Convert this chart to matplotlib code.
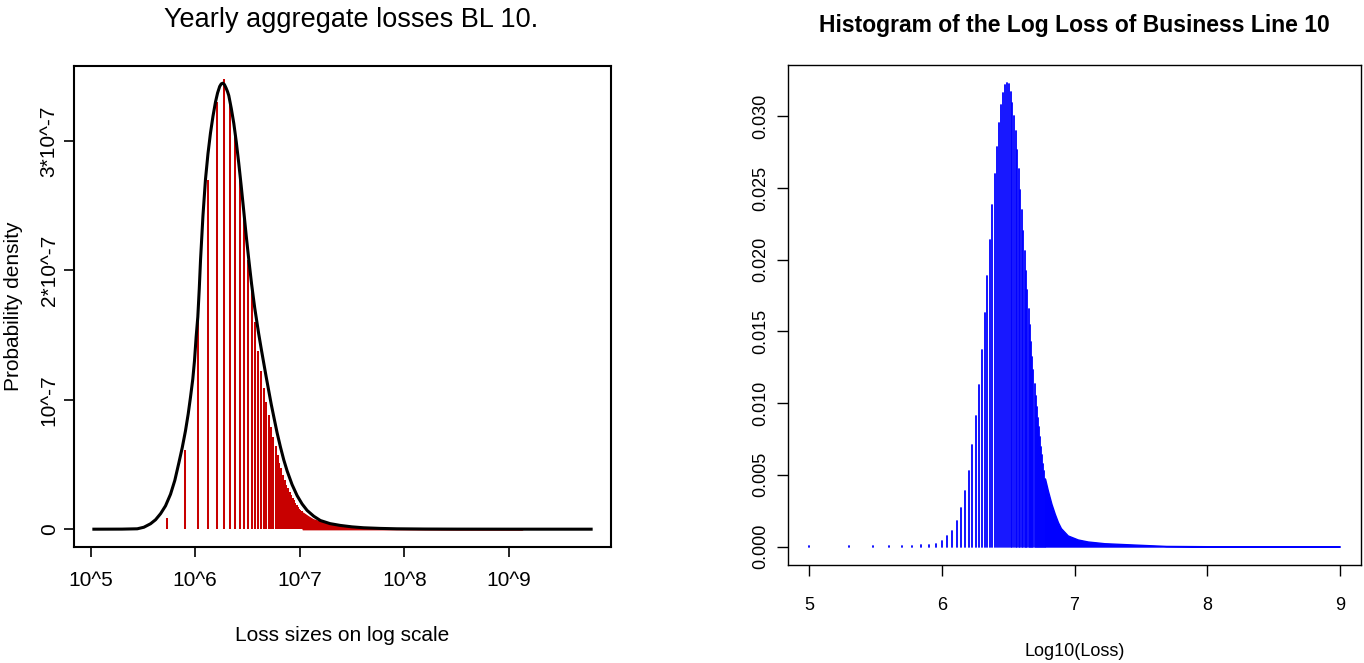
import numpy as np
import matplotlib.pyplot as plt

plt.rcParams['font.family'] = ['Liberation Sans', 'DejaVu Sans']

# ---- left panel: yearly aggregate losses, density per unit of loss ----
left_unit = 2.67e5          # loss step between two spikes
left_k = np.arange(1, 41)   # spike index (loss = k * unit)
left_dens = np.array([0.0, 0.085, 0.61, 1.69, 2.70, 3.30, 3.48, 3.30, 3.04, 2.73,
                      2.44, 2.08, 1.86, 1.60, 1.38, 1.22, 1.09, 0.98, 0.88, 0.79,
                      0.71, 0.64, 0.575, 0.515, 0.47, 0.42, 0.38, 0.345, 0.315, 0.285,
                      0.262, 0.24, 0.222, 0.205, 0.188, 0.172, 0.158, 0.146, 0.137, 0.128]) * 1e-7
# dense tail where spikes merge
left_tail_loss = np.array([1.068e7, 1.2e7, 1.335e7, 1.97e7, 2.84e7, 4.08e7, 8.5e7, 3.16e8, 1.35e9])
left_tail_dens = np.array([0.128, 0.10, 0.077, 0.034, 0.015, 0.008, 0.003, 0.001, 0.0005]) * 1e-7
# fitted density curve
curve_log10 = np.array([5.032, 5.30, 5.447, 5.510, 5.574, 5.622, 5.670, 5.717, 5.765, 5.806,
                        5.844, 5.877, 5.908, 5.934, 5.956, 5.978, 5.994, 6.010, 6.026, 6.040,
                        6.052, 6.075, 6.099, 6.123, 6.147, 6.171, 6.195, 6.215, 6.235, 6.250,
                        6.265, 6.280, 6.295, 6.310, 6.322, 6.346, 6.370, 6.394, 6.417, 6.441,
                        6.465, 6.489, 6.513, 6.540, 6.570, 6.608, 6.632, 6.656, 6.680, 6.704,
                        6.728, 6.752, 6.784, 6.816, 6.848, 6.880, 6.927, 6.975, 7.023, 7.071,
                        7.135, 7.198, 7.290, 7.389, 7.500, 7.611, 7.77, 7.93, 8.2, 8.5,
                        9.0, 9.787])
curve_dens = np.array([0.0, 0.0005, 0.003, 0.015, 0.042, 0.073, 0.12, 0.18, 0.27, 0.377,
                       0.51, 0.63, 0.76, 0.89, 1.02, 1.16, 1.30, 1.485, 1.64, 1.86,
                       2.08, 2.42, 2.70, 2.90, 3.06, 3.19, 3.30, 3.37, 3.42, 3.44,
                       3.445, 3.435, 3.41, 3.38, 3.35, 3.25, 3.135, 2.99, 2.83, 2.65,
                       2.46, 2.265, 2.085, 1.895, 1.71, 1.51, 1.395, 1.285, 1.175, 1.07,
                       0.965, 0.87, 0.745, 0.635, 0.535, 0.45, 0.345, 0.26, 0.195, 0.145,
                       0.10, 0.067, 0.043, 0.029, 0.018, 0.011, 0.006, 0.003, 0.0012, 0.0005,
                       0.0001, 0.0]) * 1e-7
left_xticks = [1e5, 1e6, 1e7, 1e8, 1e9]
left_xticklabels = ['10^5', '10^6', '10^7', '10^8', '10^9']
left_yticks = [0, 1e-7, 2e-7, 3e-7]
left_yticklabels = ['0', '10^-7', '2*10^-7', '3*10^-7']

# ---- right panel: histogram of log10 loss ----
right_unit = 1e5
right_k = np.arange(1, 61)
right_prob = [0.00002, 0.00002, 0.00003, 0.00003, 0.00004, 0.00005, 0.00009, 0.00013, 0.0002, 0.00038,
              0.0007, 0.0011, 0.0018, 0.0027, 0.00384, 0.0053, 0.00705, 0.00907, 0.0113, 0.01372,
              0.0163, 0.01884, 0.0214, 0.0238, 0.02598, 0.0279, 0.02953, 0.03077, 0.03165, 0.03216,
              0.03232, 0.03223, 0.0317, 0.03096, 0.03002, 0.02898, 0.02768, 0.02635, 0.02489, 0.02344,
              0.022, 0.02058, 0.0192, 0.01786, 0.01658, 0.01542, 0.01425, 0.01321, 0.01228, 0.01135,
              0.01053, 0.00972, 0.00898, 0.00832, 0.00763, 0.00693, 0.00635, 0.00577, 0.00525, 0.00472]
right_tail_k = np.array([60, 63, 67, 71, 75, 79, 89, 106, 126, 168, 277, 490, 1550, 10000])
right_tail_prob = [0.00472, 0.0039, 0.00298, 0.00228, 0.0017, 0.00128, 0.00077, 0.00049, 0.00035,
                   0.00023, 0.00014, 0.00004, 0.00001, 0.0]
right_xticks = [5, 6, 7, 8, 9]
right_yticks = [0.0, 0.005, 0.010, 0.015, 0.020, 0.025, 0.030]

red = '#C80000'

fig = plt.figure(figsize=(13.64, 6.63), dpi=100)

# left
ax1 = fig.add_axes([74 / 1364, 1 - 547 / 663, 537 / 1364, 481 / 663])
ax1.set_xscale('log')
ax1.vlines(left_k * left_unit, 0, left_dens, color=red, lw=1.45)
ax1.fill_between(left_tail_loss, 0, left_tail_dens, color=red, lw=1.0, edgecolor=red)
ax1.plot(10 ** curve_log10, curve_dens, color='black', lw=2.2, solid_joinstyle='round')
ax1.set_xlim(10 ** 4.842, 10 ** 9.977)
ax1.set_ylim(-0.1376e-7, 3.578e-7)
ax1.set_xticks(left_xticks)
ax1.set_xticklabels(left_xticklabels)
ax1.minorticks_off()
ax1.set_yticks(left_yticks)
ax1.set_yticklabels(left_yticklabels, rotation=90, va='center')
ax1.tick_params(labelsize=15, length=7, width=1.2)
ax1.tick_params(axis='x', pad=10.5)
ax1.tick_params(axis='y', pad=4)
for s in ax1.spines.values():
    s.set_linewidth(1.5)
ax1.set_xlabel('Loss sizes on log scale', fontsize=15, labelpad=26)
ax1.set_ylabel('Probability density', fontsize=15, labelpad=12)
fig.text(351 / 1364, 1 - 20 / 663, 'Yearly aggregate losses BL 10.', fontsize=19.5,
         ha='center', va='center')

# right
ax2 = fig.add_axes([788 / 1364, 1 - 565 / 663, 573 / 1364, 500 / 663])
ax2.vlines(np.log10(right_k * right_unit), 0, right_prob, color='blue', lw=1.3, capstyle='round')
ax2.fill_between(np.log10(right_tail_k * right_unit), 0, right_tail_prob, color='blue',
                 lw=1.0, edgecolor='blue')
ax2.set_xlim(4.84, 9.16)
ax2.set_ylim(-0.00129, 0.03359)
ax2.set_xticks(right_xticks)
ax2.set_xticklabels([str(v) for v in right_xticks])
ax2.set_yticks(right_yticks)
ax2.set_yticklabels(['%.3f' % v for v in right_yticks], rotation=90, va='center')
ax2.tick_params(labelsize=13, length=8, width=1.0)
ax2.tick_params(axis='x', pad=15)
ax2.tick_params(axis='y', pad=5.5)
for s in ax2.spines.values():
    s.set_linewidth(1.0)
ax2.set_xlabel('Log10(Loss)', fontsize=13, labelpad=21)
ax2.set_title('Histogram of the Log Loss of Business Line 10', fontsize=16.5,
              fontweight='bold', pad=24)

fig.savefig('out.png', dpi=100)
